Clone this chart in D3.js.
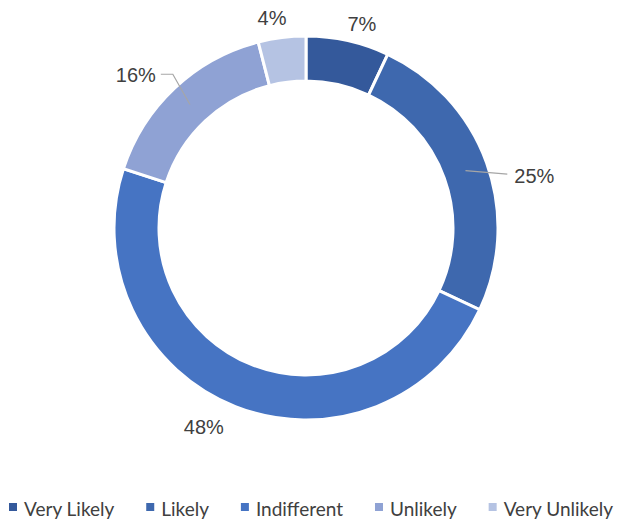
<!DOCTYPE html>
<html>
<head>
<meta charset="utf-8">
<script src="https://cdn.jsdelivr.net/npm/d3@7"></script>
<style>
  body { margin: 0; background: #fff; }
  svg { display: block; }
</style>
</head>
<body>
<div id="chart"></div>
<script>
// data
var categories = ["Very Likely", "Likely", "Indifferent", "Unlikely", "Very Unlikely"];
var values = [7, 25, 48, 16, 4];
var colors = ["#34599b", "#3e68ae", "#4674c3", "#8fa2d4", "#b5c3e3"];
// label nudges from the arc centroid (Excel's manual placement)
var labelShift = [[9, 6], [26, 21], [-23, -1], [-23, 4], [-7, 3]];
var hasLeader = [false, true, false, true, false];

var W = 618, H = 521;
var cx = 306, cy = 228;
var outerR = 192, innerR = 147;

var svg = d3.select("#chart").append("svg")
    .attr("width", W)
    .attr("height", H);

var pie = d3.pie().sort(null).value(function(d) { return d; });
var arcs = pie(values);

var arc = d3.arc().innerRadius(innerR).outerRadius(outerR);
var midArc = d3.arc().innerRadius((innerR + outerR) / 2).outerRadius((innerR + outerR) / 2);
var labelArc = d3.arc().innerRadius(215).outerRadius(215);

var g = svg.append("g").attr("transform", "translate(" + cx + "," + cy + ")");

g.selectAll("path.slice")
    .data(arcs)
    .enter().append("path")
    .attr("class", "slice")
    .attr("d", arc)
    .style("fill", function(d, i) { return colors[i]; })
    .style("stroke", "#fff")
    .style("stroke-width", 3);

// labels
var labelPos = arcs.map(function(d, i) {
    var c = labelArc.centroid(d);
    return [c[0] + labelShift[i][0], c[1] + labelShift[i][1]];
});

g.selectAll("text.pct")
    .data(arcs)
    .enter().append("text")
    .attr("class", "pct")
    .attr("x", function(d, i) { return labelPos[i][0]; })
    .attr("y", function(d, i) { return labelPos[i][1]; })
    .attr("dy", "0.35em")
    .attr("text-anchor", "middle")
    .style("font-family", "'Liberation Sans', Arial, sans-serif")
    .style("font-size", "20px")
    .style("fill", "#404040")
    .text(function(d) { return d.data + "%"; });

// leader lines
g.selectAll("path.leader")
    .data(arcs.filter(function(d, i) { return hasLeader[i]; }))
    .enter().append("path")
    .attr("class", "leader")
    .attr("d", function(d) {
        var i = d.index;
        var end = midArc.centroid(d);
        var p = labelPos[i];
        var right = p[0] > 0;
        if (right) {
            var sx = p[0] - 27;
            return "M" + sx + "," + (p[1] - 2) + "L" + end[0] + "," + end[1];
        }
        var sx2 = p[0] + 25;
        var y0 = p[1] - 1;
        return "M" + sx2 + "," + y0 + "L" + (sx2 + 12) + "," + y0 + "L" + end[0] + "," + end[1];
    })
    .style("fill", "none")
    .style("stroke", "#a6a6a6")
    .style("stroke-width", 1.2);

// legend
var legend = svg.append("g").attr("class", "legend");
var items = legend.selectAll("g.item")
    .data(categories)
    .enter().append("g")
    .attr("class", "item");

items.append("rect")
    .attr("width", 8)
    .attr("height", 8)
    .attr("y", 503)
    .style("fill", function(d, i) { return colors[i]; });

items.append("text")
    .attr("y", 516)
    .style("font-family", "Lato, 'Open Sans', sans-serif")
    .style("font-size", "19px")
    .style("fill", "#404040")
    .text(function(d) { return d; });

var widths = [];
items.select("text").each(function() { widths.push(this.getComputedTextLength()); });
var itemW = widths.map(function(w) { return 8 + 7 + w; });
var left = 9, right = 613;
var gap = (right - left - d3.sum(itemW)) / (categories.length - 1);
var xPos = 0;
var xs = itemW.map(function(w) { var x = left + xPos; xPos += w + gap; return x; });

items.select("rect").attr("x", function(d, i) { return xs[i]; });
items.select("text").attr("x", function(d, i) { return xs[i] + 15; });
</script>
</body>
</html>
